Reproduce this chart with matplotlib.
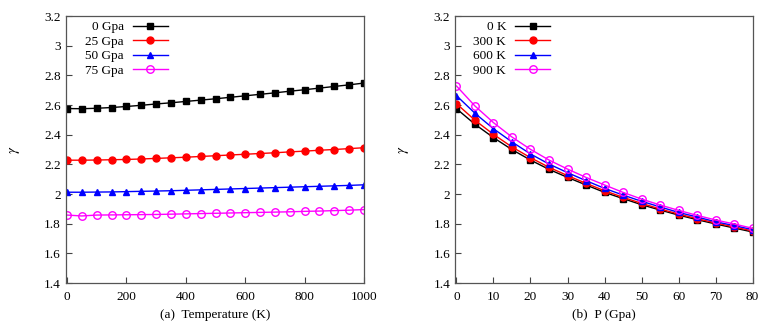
import matplotlib
matplotlib.use("Agg")
import matplotlib.pyplot as plt

plt.rcParams['font.family'] = ['Liberation Serif', 'DejaVu Serif']
plt.rcParams['mathtext.fontset'] = 'stix'

# Panel (a): gamma vs temperature at fixed pressures
temps = [0, 50, 100, 150, 200, 250, 300, 350, 400, 450, 500,
         550, 600, 650, 700, 750, 800, 850, 900, 950, 1000]
g_0gpa = [2.576, 2.575, 2.578, 2.583, 2.590, 2.598, 2.607, 2.615, 2.624, 2.633, 2.642,
          2.652, 2.662, 2.672, 2.682, 2.693, 2.703, 2.714, 2.725, 2.736, 2.748]
g_25gpa = [2.228, 2.228, 2.229, 2.231, 2.233, 2.236, 2.240, 2.244, 2.248, 2.253, 2.258,
           2.263, 2.268, 2.273, 2.278, 2.284, 2.289, 2.295, 2.300, 2.306, 2.312]
g_50gpa = [2.012, 2.012, 2.013, 2.014, 2.016, 2.018, 2.020, 2.022, 2.025, 2.028, 2.031,
           2.034, 2.037, 2.040, 2.043, 2.046, 2.049, 2.052, 2.055, 2.058, 2.062]
g_75gpa = [1.858, 1.852, 1.858, 1.859, 1.860, 1.861, 1.862, 1.864, 1.866, 1.868, 1.870,
           1.872, 1.874, 1.876, 1.878, 1.880, 1.883, 1.885, 1.888, 1.891, 1.895]
labels_a = ['0 Gpa', '25 Gpa', '50 Gpa', '75 Gpa']

# Panel (b): gamma vs pressure at fixed temperatures
press = [0, 5, 10, 15, 20, 25, 30, 35, 40, 45, 50, 55, 60, 65, 70, 75, 80]
g_0k = [2.575, 2.470, 2.380, 2.299, 2.229, 2.166, 2.112, 2.061, 2.011, 1.969, 1.928,
        1.892, 1.858, 1.827, 1.798, 1.771, 1.744]
g_300k = [2.609, 2.497, 2.402, 2.317, 2.245, 2.180, 2.124, 2.072, 2.022, 1.978, 1.937,
          1.899, 1.865, 1.834, 1.805, 1.778, 1.751]
g_600k = [2.663, 2.544, 2.440, 2.351, 2.270, 2.202, 2.144, 2.090, 2.038, 1.993, 1.951,
          1.913, 1.876, 1.845, 1.813, 1.787, 1.760]
g_900k = [2.728, 2.593, 2.481, 2.384, 2.301, 2.229, 2.168, 2.112, 2.061, 2.011, 1.966,
          1.926, 1.890, 1.856, 1.825, 1.798, 1.769]
labels_b = ['0 K', '300 K', '600 K', '900 K']

yticks = [1.4, 1.6, 1.8, 2.0, 2.2, 2.4, 2.6, 2.8, 3.0, 3.2]
ytick_labels = ['1.4', '1.6', '1.8', '2', '2.2', '2.4', '2.6', '2.8', '3', '3.2']

styles = [
    dict(color='black', marker='s', markersize=4.6, mfc='black', mec='black'),
    dict(color='#ff0000', marker='o', markersize=5.0, mfc='#ff0000', mec='#ff0000'),
    dict(color='#0000ff', marker='^', markersize=4.2, mfc='#0000ff', mec='#0000ff'),
    dict(color='#ff00ff', marker='o', markersize=5.4, mfc='none', mec='#ff00ff', mew=1.0),
]

fig = plt.figure(figsize=(7.77, 3.26), dpi=100)
ax1 = fig.add_axes([0.0843, 0.1319, 0.3842, 0.8190])
ax2 = fig.add_axes([0.5856, 0.1319, 0.3829, 0.8190])

fs = 9.5

def style_axis(ax, xlim, xticks, xlabel):
    ax.set_xlim(*xlim)
    ax.set_ylim(1.4, 3.2)
    ax.set_xticks(xticks)
    ax.set_yticks(yticks)
    ax.set_yticklabels(ytick_labels)
    ax.tick_params(direction='in', length=4, width=0.8, labelsize=fs,
                   color='#444444', top=False, right=False)
    ax.tick_params(axis='x', pad=6)
    for s in ax.spines.values():
        s.set_color('#555555')
        s.set_linewidth(0.9)
    ax.set_ylabel(r'$\gamma$', fontsize=fs + 1, labelpad=16)
    ax.set_xlabel(xlabel, fontsize=fs, labelpad=4)

for ys, lab, st in zip([g_0gpa, g_25gpa, g_50gpa, g_75gpa], labels_a, styles):
    ax1.plot(temps, ys, label=lab, linewidth=1.0, **st)
for ys, lab, st in zip([g_0k, g_300k, g_600k, g_900k], labels_b, styles):
    ax2.plot(press, ys, label=lab, linewidth=1.0, **st)

style_axis(ax1, (-5, 1000), [0, 200, 400, 600, 800, 1000], '(a)  Temperature (K)')
style_axis(ax2, (-0.4, 80), [0, 10, 20, 30, 40, 50, 60, 70, 80], '(b)  P (Gpa)')

for ax, xa in ((ax1, 0.04), (ax2, 0.035)):
    leg = ax.legend(loc='upper left', bbox_to_anchor=(xa, 1.01), frameon=False,
                    markerfirst=False, handlelength=2.7, handletextpad=0.65,
                    labelspacing=0.16, fontsize=fs, borderaxespad=0.2)
    for t in leg.get_texts():
        t.set_ha('right')
    leg._legend_box.align = 'right'

fig.savefig('out.png', dpi=100)
